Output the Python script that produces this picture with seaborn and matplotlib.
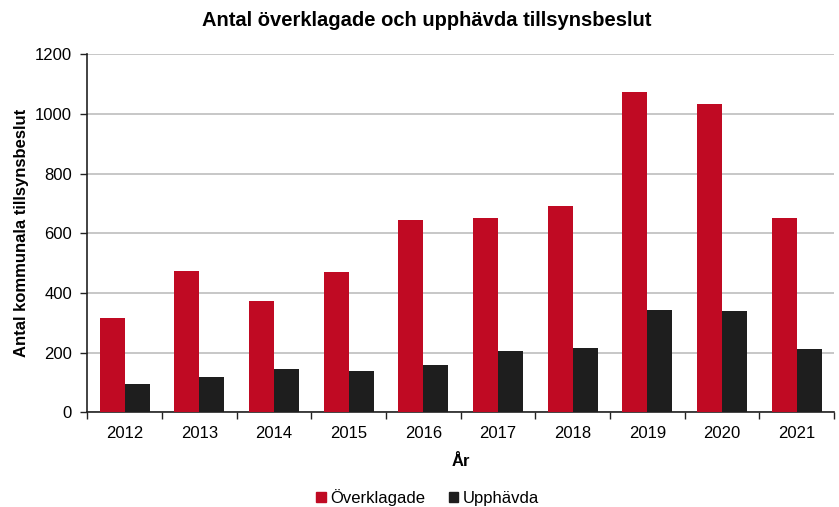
import numpy as np
import pandas as pd
import matplotlib
matplotlib.use("Agg")
import matplotlib.pyplot as plt
import seaborn as sns
from matplotlib.patches import Patch

years = ["2012", "2013", "2014", "2015", "2016", "2017", "2018", "2019", "2020", "2021"]
overklagade = [316, 473, 373, 471, 644, 650, 691, 1073, 1032, 652]
upphavda = [94, 118, 144, 138, 158, 204, 215, 342, 339, 211]

df = pd.DataFrame({"År": years * 2,
                   "Antal": overklagade + upphavda,
                   "Typ": ["Överklagade"] * len(years) + ["Upphävda"] * len(years)})

sns.set_style("white")
plt.rcParams["font.family"] = ["Liberation Sans", "DejaVu Sans"]
plt.rcParams["text.color"] = "black"
plt.rcParams["axes.labelcolor"] = "black"
plt.rcParams["xtick.color"] = "black"
plt.rcParams["ytick.color"] = "black"

colors = {"Överklagade": "#C00A23", "Upphävda": "#1E1E1E"}

fig, ax = plt.subplots(figsize=(8.39, 5.07), dpi=100)
fig.subplots_adjust(left=0.104, right=0.994, top=0.893, bottom=0.187)

sns.barplot(data=df, x="År", y="Antal", hue="Typ", palette=colors,
            width=0.67, gap=0, saturation=1, legend=False, ax=ax,
            linewidth=0, zorder=3)

ax.set_ylim(0, 1200)
ax.set_xlim(-0.5, 9.5)
ax.set_yticks(range(0, 1201, 200))
ax.yaxis.grid(True, color="#BEBEBE", linewidth=1.2, zorder=0)
ax.set_axisbelow(True)

# Excel style ticks between categories
ax.set_xticks(np.arange(-0.5, 10, 1), minor=True)
ax.tick_params(axis="x", which="major", bottom=False, length=0, labelsize=12, pad=10)
ax.tick_params(axis="x", which="minor", bottom=True, length=5, width=1,
               direction="out", color="#222222")
ax.tick_params(axis="y", left=True, length=5, width=1, direction="out",
               color="#222222", labelsize=12, pad=6)

for s in ["top", "right"]:
    ax.spines[s].set_visible(False)
for s in ["left", "bottom"]:
    ax.spines[s].set_color("#222222")
    ax.spines[s].set_linewidth(1.2)

ax.set_xlabel("År", fontsize=12, fontweight="bold", labelpad=9)
ax.set_ylabel("Antal kommunala tillsynsbeslut", fontsize=12, fontweight="bold", labelpad=4)
fig.suptitle("Antal överklagade och upphävda tillsynsbeslut", fontsize=14.5,
             fontweight="bold", x=0.508, y=0.978)

handles = [Patch(color=colors["Överklagade"], label="Överklagade"),
           Patch(color=colors["Upphävda"], label="Upphävda")]
fig.legend(handles=handles, loc="lower center", ncol=2, frameon=False,
           bbox_to_anchor=(0.51, -0.027), fontsize=12, handlelength=0.55,
           handleheight=0.55, handletextpad=0.3, columnspacing=1.4)

fig.savefig("out.png", dpi=100)
